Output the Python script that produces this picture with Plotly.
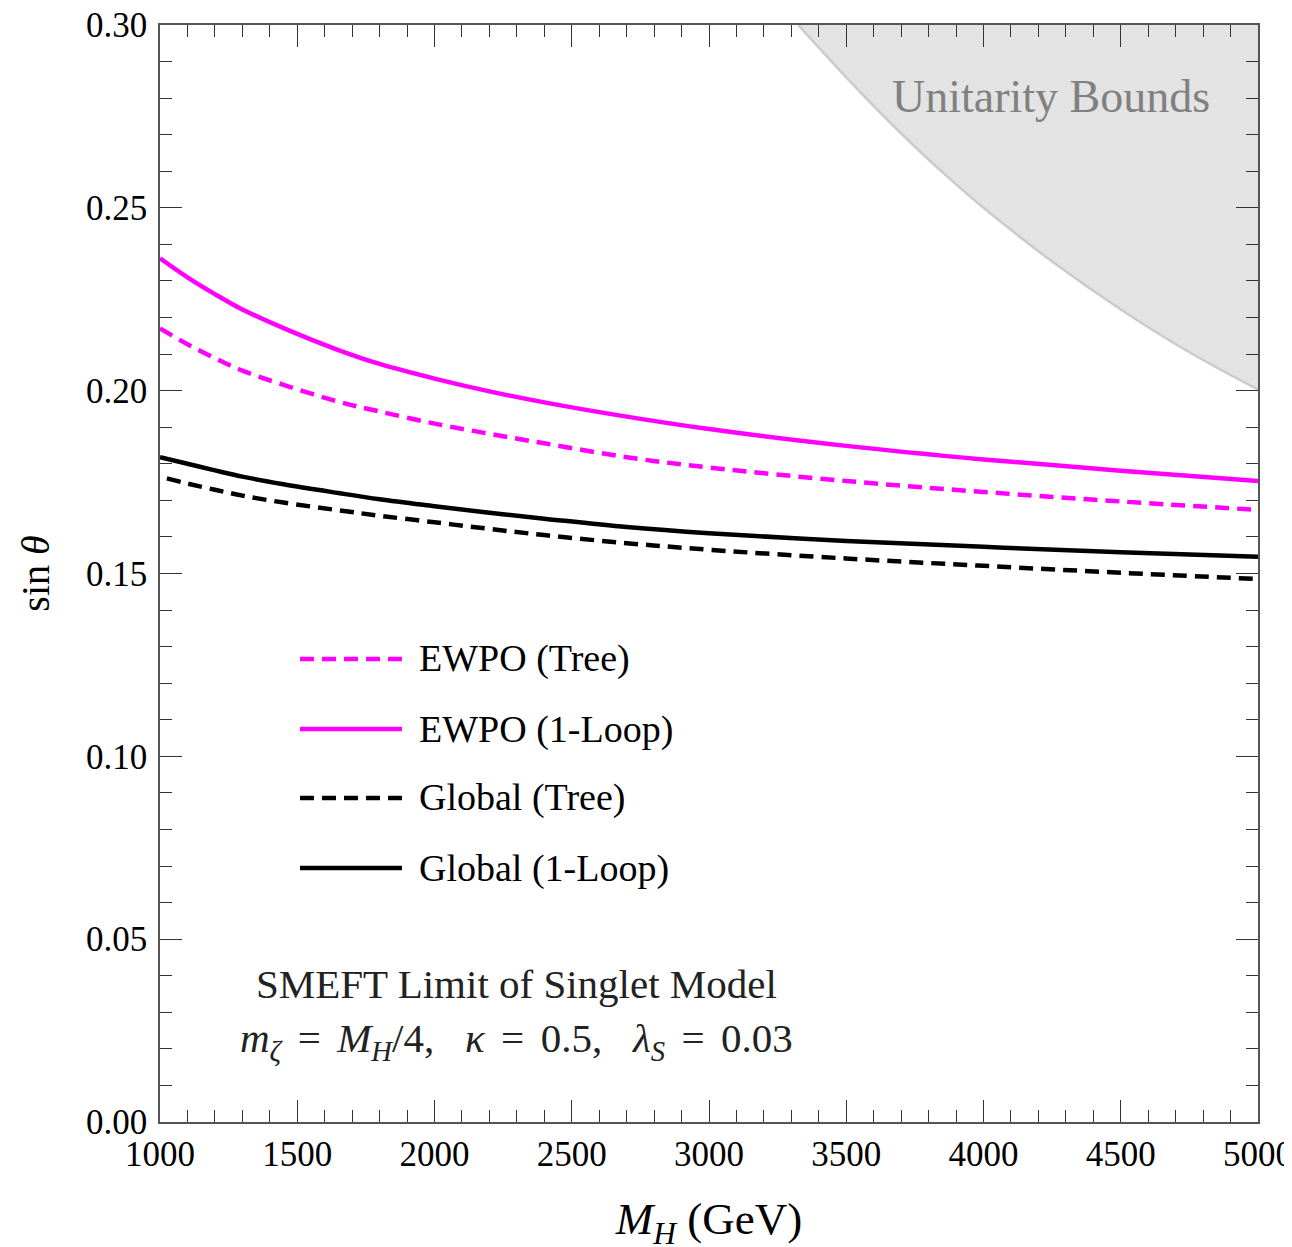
import plotly.graph_objects as go

# ---- data ----
mass = [1000, 1100, 1200, 1300, 1450, 1650, 1800, 2000, 2200, 2400, 2700, 3000, 3500, 4000, 4500, 5000]
ewpo_loop = [0.2362, 0.2310, 0.2264, 0.2222, 0.2171, 0.2111, 0.2073, 0.2033, 0.1998, 0.1968, 0.1929,
             0.1895, 0.1849, 0.1812, 0.1781, 0.1753]
ewpo_tree = [0.2170, 0.2127, 0.2089, 0.2055, 0.2016, 0.1970, 0.1943, 0.1910, 0.1882, 0.1856, 0.1818,
             0.1790, 0.1753, 0.1723, 0.1697, 0.1674]
global_loop = [0.1818, 0.1800, 0.1782, 0.1765, 0.1744, 0.1720, 0.1703, 0.1684, 0.1666, 0.1650, 0.1627,
               0.1610, 0.1589, 0.1573, 0.1558, 0.1546]
mass_gtree = [1025, 1100, 1200, 1300, 1450, 1650, 1800, 2000, 2200, 2400, 2700, 3000, 3500, 4000, 4500, 5000]
global_tree = [0.1760, 0.1746, 0.1729, 0.1713, 0.1694, 0.1673, 0.1658, 0.1640, 0.1622, 0.1605, 0.1583,
               0.1565, 0.1541, 0.1521, 0.1502, 0.1485]
mass_unit = [3325, 3400, 3500, 3600, 3750, 3900, 4000, 4250, 4500, 4750, 5000]
unit_bound = [0.3000, 0.2938, 0.2857, 0.2778, 0.2667, 0.2564, 0.2500, 0.2353, 0.2222, 0.2105, 0.2003]

x_ticks = [1000, 1500, 2000, 2500, 3000, 3500, 4000, 4500, 5000]
y_ticks = [0.00, 0.05, 0.10, 0.15, 0.20, 0.25, 0.30]

legend_labels = ["EWPO (Tree)", "EWPO (1-Loop)", "Global (Tree)", "Global (1-Loop)"]

MAG = "#ff00ff"
FONT = "Liberation Serif"
DASH = "14px,8px"
LW = 4.5

fig = go.Figure()

# unitarity region
fig.add_trace(go.Scatter(
    x=mass_unit + [5000, mass_unit[0]],
    y=unit_bound + [0.30, 0.30],
    fill="toself", fillcolor="#e3e3e3", mode="lines",
    line=dict(width=0), hoverinfo="skip", showlegend=False))
fig.add_trace(go.Scatter(
    x=mass_unit, y=unit_bound, mode="lines", line=dict(color="#cbcbcb", width=2.5, shape="spline"),
    showlegend=False, hoverinfo="skip"))

fig.add_trace(go.Scatter(x=mass, y=ewpo_tree, mode="lines", name=legend_labels[0],
                         line=dict(color=MAG, width=LW, dash=DASH, shape="spline")))
fig.add_trace(go.Scatter(x=mass, y=ewpo_loop, mode="lines", name=legend_labels[1],
                         line=dict(color=MAG, width=LW, shape="spline")))
fig.add_trace(go.Scatter(x=mass_gtree, y=global_tree, mode="lines", name=legend_labels[2],
                         line=dict(color="black", width=LW, dash=DASH, shape="spline")))
fig.add_trace(go.Scatter(x=mass, y=global_loop, mode="lines", name=legend_labels[3],
                         line=dict(color="black", width=LW, shape="spline")))

# manual legend
leg_styles = [(MAG, DASH), (MAG, "solid"), ("black", DASH), ("black", "solid")]
leg_y = [0.4221, 0.3582, 0.2954, 0.2315]
for lab, (col, dash), yy in zip(legend_labels, leg_styles, leg_y):
    fig.add_shape(type="line", xref="paper", yref="paper", x0=0.1275, x1=0.2204, y0=yy, y1=yy,
                  line=dict(color=col, width=LW, dash=dash))
    fig.add_annotation(xref="paper", yref="paper", x=0.234, y=yy, text=lab, showarrow=False,
                       xanchor="left", yanchor="middle", font=dict(family=FONT, size=38, color="black"))

fig.add_annotation(xref="paper", yref="paper", x=0.325, y=0.1255,
                   text="SMEFT Limit of Singlet Model", showarrow=False,
                   xanchor="center", yanchor="middle", font=dict(family=FONT, size=41, color="#222"))
fig.add_annotation(xref="paper", yref="paper", x=0.325, y=0.074,
                   text="<i>m</i><sub><i>ζ</i></sub>\u2009\u2009=\u2009\u2009<i>M</i><sub><i>H</i></sub>/4,\u2002 <i>κ</i>\u2009\u2009=\u2009\u20090.5,\u2002 <i>λ</i><sub><i>S</i></sub>\u2009\u2009=\u2009\u20090.03",
                   showarrow=False, xanchor="center", yanchor="middle",
                   font=dict(family=FONT, size=41, color="#222"))
fig.add_annotation(xref="paper", yref="paper", x=0.958, y=0.935,
                   text="Unitarity Bounds", showarrow=False, xanchor="right", yanchor="middle",
                   font=dict(family=FONT, size=46, color="#808080"))

axis_common = dict(
    showline=True, mirror="ticks", linecolor="#555", linewidth=1.5,
    ticks="inside", ticklen=22, tickwidth=1.2, tickcolor="#333",
    showgrid=False, zeroline=False, automargin=False, ticklabeloverflow="allow",
    tickfont=dict(family=FONT, size=35, color="black"),
)

fig.update_xaxes(range=[1000, 5000], tickvals=x_ticks, ticktext=[str(v) for v in x_ticks],
                 minor=dict(dtick=100, ticklen=12, tickwidth=1, tickcolor="#333", ticks="inside"),
                 title=dict(text="<i>M</i><sub><i>H</i></sub> (GeV)", font=dict(family=FONT, size=45, color="black"),
                            standoff=30),
                 **axis_common)
fig.update_yaxes(range=[0, 0.30], tickvals=y_ticks, ticktext=[f"{v:.2f}" for v in y_ticks],
                 minor=dict(dtick=0.01, ticklen=12, tickwidth=1, tickcolor="#333", ticks="inside"),
                 title=dict(text="sin <i>θ</i>", font=dict(family=FONT, size=40, color="black"), standoff=24),
                 ticklabelstandoff=4,
                 **axis_common)

fig.update_layout(
    width=1292, height=1247,
    margin=dict(l=152, r=42, t=17, b=133),
    plot_bgcolor="white", paper_bgcolor="white",
    showlegend=False,
)

fig.write_html("out.html")
